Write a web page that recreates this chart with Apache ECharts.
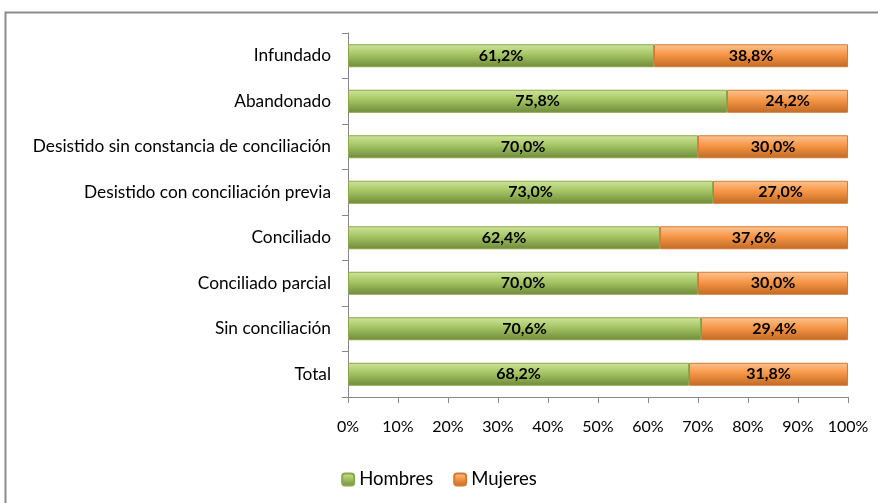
<!DOCTYPE html>
<html>
<head>
<meta charset="utf-8">
<script src="https://cdn.jsdelivr.net/npm/echarts@6/dist/echarts.min.js"></script>
<style>
  html, body { margin: 0; padding: 0; background: #fff; }
  #chart { width: 878px; height: 503px; }
</style>
</head>
<body>
<div id="chart"></div>
<script>
var categories = ['Total', 'Sin conciliación', 'Conciliado parcial', 'Conciliado',
  'Desistido con conciliación previa', 'Desistido sin constancia de conciliación',
  'Abandonado', 'Infundado'];
var hombres = [68.2, 70.6, 70.0, 62.4, 73.0, 70.0, 75.8, 61.2];
var mujeres = [31.8, 29.4, 30.0, 37.6, 27.0, 30.0, 24.2, 38.8];
var xTicks = [0, 10, 20, 30, 40, 50, 60, 70, 80, 90, 100];

var chart = echarts.init(document.getElementById('chart'));

function grad(top, mid, bot) {
  return new echarts.graphic.LinearGradient(0, 0, 0, 1, [
    { offset: 0, color: top },
    { offset: 0.45, color: mid },
    { offset: 1, color: bot }
  ]);
}

var font = 'Lato, "Open Sans", sans-serif';

function pct(p) { return p.value.toFixed(1).replace('.', ',') + '%'; }

var option = {
  animation: false,
  textStyle: { fontFamily: font },
  graphic: [{
    type: 'rect',
    shape: { x: 5.5, y: 12.5, width: 900, height: 520 },
    style: { fill: 'none', stroke: '#8c8c8c', lineWidth: 2 }
  }],
  grid: { left: 348, right: 30, top: 33, bottom: 106 },
  legend: {
    bottom: 9,
    left: 'center',
    itemWidth: 12,
    itemHeight: 12,
    itemGap: 20,
    textStyle: { fontSize: 18.5, color: '#000', fontFamily: font },
    data: ['Hombres', 'Mujeres']
  },
  xAxis: {
    type: 'value',
    min: 0,
    max: 100,
    interval: 10,
    axisLine: { show: true, lineStyle: { color: '#888' } },
    axisTick: { show: true, length: 6, lineStyle: { color: '#888' } },
    splitLine: { show: false },
    axisLabel: {
      color: '#000', fontSize: 16, margin: 22,
      formatter: function (v) { return xTicks.indexOf(v) >= 0 ? v + '%' : ''; }
    }
  },
  yAxis: {
    type: 'category',
    data: categories,
    axisLine: { show: true, lineStyle: { color: '#888' } },
    axisTick: { show: true, length: 6, lineStyle: { color: '#888' } },
    axisLabel: { color: '#000', fontSize: 17.3, margin: 17 }
  },
  series: [{
    name: 'Hombres',
    type: 'bar',
    stack: 'total',
    barWidth: 23,
    data: hombres,
    itemStyle: {
      color: grad('#cfe59a', '#a4c463', '#6f8a3a'),
      borderColor: '#8aa64f',
      borderWidth: 1
    },
    label: {
      show: true, position: 'inside', color: '#000', fontWeight: 'bold', fontSize: 16,
      formatter: pct
    }
  }, {
    name: 'Mujeres',
    type: 'bar',
    stack: 'total',
    barWidth: 23,
    data: mujeres,
    itemStyle: {
      color: grad('#fcc494', '#f79646', '#c06a25'),
      borderColor: '#d37a33',
      borderWidth: 1
    },
    label: {
      show: true, position: 'inside', color: '#000', fontWeight: 'bold', fontSize: 16,
      formatter: pct
    }
  }]
};

chart.setOption(option);
</script>
</body>
</html>
